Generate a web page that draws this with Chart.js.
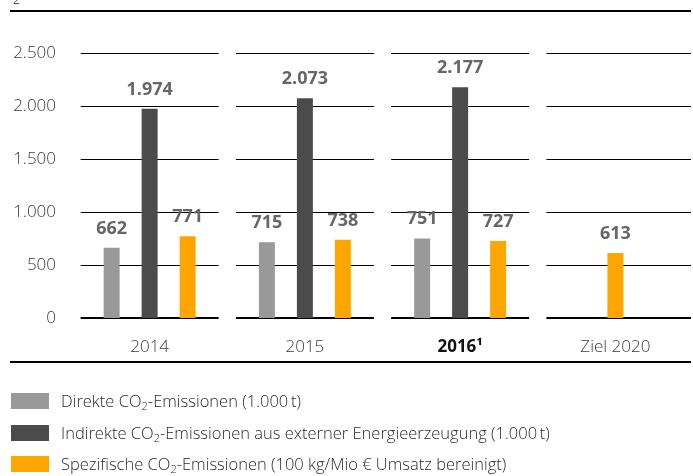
<!DOCTYPE html>
<html>
<head>
<meta charset="utf-8">
<script src="https://cdn.jsdelivr.net/npm/chart.js@4/dist/chart.umd.min.js"></script>
<style>
  body { margin: 0; background: #fff; }
  #wrap { position: relative; width: 693px; height: 476px; }
  #legende { position: absolute; left: 11px; top: 393px; font-family: "Open Sans", sans-serif; font-weight: 300; font-size: 16.5px; color: #2a2a2a; }
  .item { position: relative; height: 31.5px; }
  .box { position: absolute; left: 0; top: 0; width: 38px; height: 16px; }
  .txt { position: absolute; left: 50px; top: -4px; white-space: nowrap; }
  sub { font-size: 11px; vertical-align: -3px; line-height: 0; }
</style>
</head>
<body>
<div id="wrap">
  <canvas id="chart-co2" width="693" height="476"></canvas>
  <div id="legende"></div>
</div>
<script>
// Daten
const jahre = ["2014", "2015", "2016¹", "Ziel 2020"];
const direkt = [662, 715, 751, null];
const indirekt = [1974, 2073, 2177, null];
const spezifisch = [771, 738, 727, 613];
const yTicks = [0, 500, 1000, 1500, 2000, 2500];

const namen = [
  "Direkte CO₂-Emissionen (1.000 t)",
  "Indirekte CO₂-Emissionen aus externer Energieerzeugung (1.000 t)",
  "Spezifische CO₂-Emissionen (100 kg/Mio € Umsatz bereinigt)",
];
const farben = ["#999999", "#4b4b4b", "#ffa500"];

const formatZahl = (n) => String(n).replace(/\B(?=(\d{3})+(?!\d))/g, ".");

// Gitterlinien je Kategorie mit Lücke
const gitterPlugin = {
  id: "gitter",
  beforeDatasetsDraw(chart) {
    const { ctx, chartArea, scales: { x, y } } = chart;
    ctx.save();
    ctx.strokeStyle = "#000";
    yTicks.forEach((v) => {
      const py = Math.round(y.getPixelForValue(v));
      ctx.lineWidth = v === 0 ? 2 : 1;
      jahre.forEach((j, i) => {
        const cx = x.getPixelForValue(i);
        const links = cx - 69;
        const rechts = i === jahre.length - 1 ? chartArea.right - 2 : cx + 69;
        ctx.beginPath();
        ctx.moveTo(links, v === 0 ? py : py + 0.5);
        ctx.lineTo(rechts, v === 0 ? py : py + 0.5);
        ctx.stroke();
      });
    });
    // Rahmenlinien oben und unten
    ctx.lineWidth = 2;
    ctx.beginPath();
    ctx.moveTo(10, 11);
    ctx.lineTo(691, 11);
    ctx.moveTo(10, 362);
    ctx.lineTo(691, 362);
    ctx.stroke();
    // abgeschnittenes "2" oben links
    ctx.fillStyle = "#555";
    ctx.font = "12px 'Open Sans'";
    ctx.textBaseline = "alphabetic";
    ctx.fillText("2", 13, 4);
    ctx.restore();
  },
};

// Werte über den Balken
const wertePlugin = {
  id: "werte",
  afterDatasetsDraw(chart) {
    const { ctx } = chart;
    ctx.save();
    ctx.fillStyle = "#666";
    ctx.font = "bold 18px 'Open Sans'";
    ctx.textAlign = "center";
    ctx.textBaseline = "alphabetic";
    chart.data.datasets.forEach((ds, di) => {
      chart.getDatasetMeta(di).data.forEach((bar, i) => {
        if (ds.data[i] == null) return;
        ctx.fillText(formatZahl(ds.data[i]), bar.x, bar.y - 14);
      });
    });
    ctx.restore();
  },
};

const datensaetze = [direkt, indirekt, spezifisch].map((werte, i) => ({
  label: namen[i],
  data: werte,
  backgroundColor: farben[i],
  categoryPercentage: 0.734,
  barPercentage: 0.421,
  maxBarThickness: 16,
  skipNull: true,
}));

const chartCO2 = new Chart(document.querySelector("#chart-co2").getContext("2d"), {
  type: "bar",
  data: { labels: jahre, datasets: datensaetze },
  options: {
    responsive: false,
    animation: false,
    layout: { padding: { top: 53, left: 0, right: 0, bottom: 0 } },
    plugins: { legend: { display: false }, tooltip: { enabled: false } },
    scales: {
      x: {
        grid: { display: false },
        border: { display: false },
        ticks: {
          padding: 11,
          color: (c) => (c.index === 2 ? "#111" : "#3a3a3a"),
          font: (c) =>
            c.index === 2
              ? { family: "Open Sans", size: 17, weight: "bold" }
              : { family: "Open Sans", size: 17, weight: "300" },
        },
        afterFit: (s) => { s.height = 158; },
      },
      y: {
        min: 0,
        max: 2500,
        afterBuildTicks: (s) => { s.ticks = yTicks.map((v) => ({ value: v })); },
        grid: { display: false, drawTicks: false },
        border: { display: false },
        ticks: {
          padding: 16,
          color: "#3a3a3a",
          font: { family: "Open Sans", size: 17, weight: "300" },
          callback: (v) => formatZahl(v),
        },
        afterFit: (s) => { s.width = 72; },
      },
    },
  },
  plugins: [gitterPlugin, wertePlugin],
});

// Legende
const legende = document.querySelector("#legende");
namen.forEach((n, i) => {
  const item = document.createElement("div");
  item.className = "item";
  item.innerHTML =
    `<div class="box" style="background:${farben[i]}"></div>` +
    `<div class="txt">${n.replace("₂", "<sub>2</sub>").replace(" t)", "&thinsp;t)")}</div>`;
  legende.appendChild(item);
});
</script>
</body>
</html>
